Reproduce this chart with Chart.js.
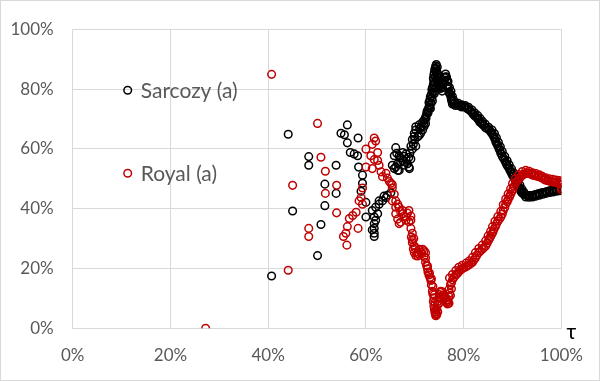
<!DOCTYPE html>
<html>
<head>
<meta charset="utf-8">
<script src="https://cdn.jsdelivr.net/npm/chart.js@4/dist/chart.umd.min.js"></script>
<style>
  html, body { margin: 0; padding: 0; background: #ffffff; }
  #wrap { width: 600px; height: 381px; position: relative; }
</style>
</head>
<body>
<div id="wrap"><canvas id="c" width="600" height="381"></canvas></div>
<script>
// ---- Data (tau %, share %) ----
const seriesNames = ['Sarcozy (a)', 'Royal (a)'];
const xTicks = [0, 20, 40, 60, 80, 100];
const yTicks = [0, 20, 40, 60, 80, 100];

const sarcozy = [
  [40.7,17.5],[44.1,64.9],[45.0,39.2],[48.3,57.4],[48.3,54.5],[50.1,24.3],[50.8,34.7],[51.6,48.2],[51.6,41.0],[53.9,54.5],[53.9,45.1],
  [54.9,65.2],[55.6,64.7],[56.2,68.0],[56.2,62.0],[56.8,58.8],[57.6,58.3],[58.3,57.7],[58.4,63.6],[58.5,53.9],[59.3,51.2],[59.3,48.5],[59.0,45.8],[60.0,42.1],[60.0,37.2],
  [61.3,39.4],[62.0,40.5],[62.7,41.5],[63.4,42.6],[64.1,43.7],[61.7,37.2],[62.0,36.1],[61.3,32.9],[61.7,30.7],[61.7,35.0],[61.7,33.4],[61.7,31.8],[62.4,38.3],[62.7,42.6],[63.7,44.2],[64.4,44.5],[65.1,45.3],
  [65.4,54.5],[65.8,53.4],[65.8,57.7],[66.1,60.4],[66.1,53.9],[66.5,55.0],[66.5,52.8],[66.8,57.7],[66.8,52.8],[67.1,55.5],[67.5,56.1],[67.5,58.8],[68.2,58.3],[68.2,56.6],[68.8,57.2],[68.8,53.9],[68.9,53.4],[69.2,56.6],[69.2,60.9],[69.5,59.9],[69.5,63.1],[69.9,64.2],[69.9,65.2],[70.2,60.9],[70.2,66.3],[70.2,67.4],
  [66.3,58.5],[67.0,57.0],[67.8,57.5],[68.5,55.0],[67.8,54.5],[69.0,58.5],[69.7,61.5],[70.0,63.0],
  [70.9,68.0],[71.2,65.2],[71.6,66.3],[71.6,69.0],[72.2,68.5],[72.2,70.6],[72.5,72.5],[72.9,73.9],[72.9,75.5],[73.2,77.5],[73.6,79.0],[73.6,80.4],[73.9,82.5],[73.9,84.7],[74.1,86.5],[74.3,87.7],
  [70.6,64.0],[71.0,66.8],[71.9,67.5],[72.0,69.8],[72.4,71.5],[72.7,73.2],[73.0,74.7],[73.1,76.5],[73.4,78.3],[73.5,79.8],[73.8,81.5],[73.8,83.5],[74.0,85.5],[74.2,87.0],[74.4,88.2],[74.4,86.8],[74.6,85.2],
  [70.9,64.5],[71.3,67.3],[71.9,68.6],[72.3,70.2],[72.7,72.0],[73.0,73.6],[73.3,75.2],[73.5,77.0],[73.8,78.8],[73.9,80.3],[74.1,82.0],[74.2,84.0],[74.4,85.7],[74.6,87.4],
  [73.2,73.5],[73.6,76.0],[74.0,78.5],[74.3,80.5],[74.5,83.0],
  [74.5,86.0],[74.6,84.0],[74.8,82.0],[75.0,81.4],[75.3,80.2],[75.6,79.3],[75.6,81.5],[75.9,83.0],[76.3,84.1],[76.6,83.0],[76.7,81.0],[77.0,79.0],[77.3,78.2],[77.5,76.5],[77.7,75.0],
  [74.9,83.0],[75.2,81.0],[75.4,80.5],[75.8,82.2],[76.1,83.8],[76.5,84.0],[76.8,80.0],[77.1,78.5],[77.4,77.3],[77.6,75.8],
  [75.0,84.5],[75.3,82.3],[75.7,80.6],[76.0,82.5],[76.3,85.0],[76.8,82.5],[77.1,80.5],[77.4,79.3],[77.7,77.5],[78.0,76.2],
  [78.3,74.5],[79.0,74.5],[79.6,74.0],[80.4,73.9],[81.0,73.2],[81.8,72.0],[82.3,71.0],[82.8,70.3],[83.3,69.0],[83.8,68.3],[84.5,67.0],[85.2,66.4],[85.7,65.3],[86.2,64.0],[86.6,62.3],[87.0,61.0],[87.4,59.5],[87.9,57.5],[88.4,56.2],[88.8,54.8],[89.3,53.5],[89.7,52.2],[90.1,50.8],[90.6,49.5],[91.0,48.0],[91.4,46.8],[91.8,45.6],
  [78.0,75.0],[78.6,74.8],[79.3,74.3],[80.0,74.2],[80.7,73.5],[81.4,72.6],[82.0,71.5],[82.6,70.6],[83.0,69.8],[83.6,68.6],[84.1,67.8],[84.8,66.8],[85.5,65.8],[86.0,64.6],[86.4,63.2],[86.8,61.6],[87.2,60.2],[87.6,58.5],[88.1,56.9],[88.6,55.5],[89.0,54.2],[89.5,52.8],[89.9,51.5],[90.4,50.1],[90.8,48.8],[91.2,47.4],[91.6,46.2],
  [78.2,75.4],[78.9,75.2],[79.6,74.7],[80.3,74.5],[81.0,73.9],[81.7,73.0],[82.3,72.0],[82.9,71.1],[83.4,70.1],[83.9,69.1],[84.4,68.3],[85.1,67.2],[85.8,66.3],[86.3,65.1],[86.7,63.7],[87.1,62.2],[87.5,60.7],[87.9,59.1],[88.4,57.5],[88.9,56.0],[89.3,54.7],[89.8,53.3],[90.2,52.0],[90.7,50.6],[91.1,49.3],[91.5,47.9],[91.9,46.6],[92.3,45.6],
  [92.3,44.8],[92.9,44.5],[93.5,44.4],[94.2,44.5],[94.9,44.8],[95.6,45.1],[96.3,45.4],[97.0,45.7],[97.7,46.0],[98.4,46.2],[99.1,46.4],[99.8,46.6],
  [92.0,45.2],[92.6,44.6],[93.2,44.4],[93.9,44.4],[94.6,44.6],[95.3,45.0],[96.0,45.3],[96.7,45.5],[97.4,45.9],[98.1,46.1],[98.8,46.3],[99.5,46.5],
  [92.7,43.9],[93.4,43.8],[94.1,43.9],[94.8,44.2],[95.5,44.5],[96.2,44.8],[96.9,45.1],[97.6,45.4],[98.3,45.6],[99.0,45.8],[99.7,46.0]
];

const royal = [
  [27.2,0.0],[40.7,84.9],[44.1,19.4],[45.0,47.8],[48.3,33.4],[48.3,30.7],[50.1,68.5],[50.8,57.2],[51.7,52.5],[51.7,45.1],[54.0,47.8],[54.0,38.6],
  [55.4,30.7],[55.9,31.8],[56.1,27.8],[56.2,34.0],[56.6,36.7],[57.3,37.7],[58.0,38.8],[58.4,33.4],[58.6,42.6],[59.0,43.7],[59.3,41.5],[59.3,46.9],[60.0,53.9],[60.0,59.9],[61.0,57.7],[61.3,61.5],[61.7,63.6],[62.0,62.6],[61.7,56.4],[61.3,53.4],[62.4,56.1],[62.4,58.8],[62.7,54.5],
  [63.1,52.3],[63.4,50.7],[64.1,51.8],[64.4,50.2],[64.8,49.1],[65.1,48.5],[65.4,48.0],[65.4,46.9],[65.4,42.6],[65.8,44.8],[66.1,42.6],[66.1,40.5],[66.1,38.3],[66.5,41.5],[66.5,36.5],[66.8,40.5],[66.8,35.0],[67.1,39.0],[67.1,35.5],[67.5,38.3],[67.5,39.4],[67.8,37.5],[68.2,37.2],[68.2,36.1],[68.5,38.5],[68.8,39.4],[68.8,35.6],[69.2,37.5],[69.2,36.1],[69.2,33.4],
  [69.5,31.8],[69.5,29.6],[69.5,28.6],[69.9,27.5],[69.9,25.3],[70.2,24.3],[70.9,24.8],[70.9,26.4],[71.6,26.4],[71.9,25.9],[72.2,25.3],[72.2,22.1],[72.6,19.9],[72.9,17.8],[73.3,16.0],[73.6,12.4],[73.9,10.2],[73.9,7.5],[74.1,5.5],[74.3,4.2],
  [69.3,30.5],[69.7,26.5],[70.5,25.0],[71.2,25.5],[71.9,24.0],[72.4,21.0],[72.7,18.8],[73.1,17.0],[73.4,14.5],[73.7,11.5],[73.8,9.0],[74.0,6.5],[74.2,4.8],[74.4,5.0],
  [69.8,30.0],[70.1,26.8],[70.6,24.2],[71.4,24.9],[72.2,23.6],[72.6,20.8],[73.0,18.5],[73.4,16.6],[73.7,14.0],[74.0,11.2],[74.1,8.6],[74.3,6.2],[74.5,4.5],[74.7,5.5],[74.9,8.2],[75.2,10.4],[75.5,12.3],[76.0,11.2],[76.3,10.3],[76.7,9.0],[77.0,8.4],[77.3,11.0],[77.5,13.2],
  [74.5,6.5],[74.7,9.0],[75.0,11.3],[75.3,12.4],[75.6,11.0],[76.0,10.2],[76.3,9.2],[76.7,8.1],[77.0,10.5],[77.0,13.0],[77.3,14.6],[77.7,16.2],[78.4,17.8],[79.0,18.9],[79.7,19.9],[80.4,20.5],[81.1,21.2],[81.8,22.1],[82.4,23.5],[83.1,25.3],[83.8,26.4],[84.5,27.5],
  [74.6,7.8],[74.9,10.0],[75.2,12.0],[75.8,10.6],[76.1,9.8],[76.5,8.6],[76.8,9.5],[77.1,11.8],[77.5,15.2],[78.0,17.0],[78.7,18.3],[79.3,19.4],[80.0,20.2],[80.8,20.9],[81.5,21.7],[82.1,22.8],[82.7,24.4],[83.4,25.8],[84.1,26.9],
  [77.1,16.8],[77.7,18.0],[78.4,19.3],[79.0,20.4],[79.7,21.1],[80.5,21.8],[81.2,22.6],[81.8,23.7],[82.4,25.3],[83.1,26.7],[83.8,27.8],[84.5,29.3],[85.0,30.9],[85.5,32.4],[85.9,34.0],[86.4,35.8],[87.0,37.4],[87.6,39.1],[88.1,41.3],[88.6,43.2],[89.1,44.9],[89.6,46.6],[90.0,48.4],[90.6,50.1],[91.3,51.4],[92.0,52.4],[92.7,52.8],
  [85.1,29.4],[85.5,30.7],[86.0,32.3],[86.5,34.0],[87.0,35.8],[87.6,37.2],[88.1,39.3],[88.6,41.5],[89.1,43.1],[89.6,44.8],[90.1,46.6],[90.6,48.5],[91.3,49.8],[92.0,51.2],[92.7,51.8],[93.3,51.8],
  [84.8,28.4],[85.3,30.0],[85.8,31.5],[86.2,33.1],[86.7,34.9],[87.3,36.5],[87.9,38.2],[88.4,40.4],[88.9,42.3],[89.4,44.0],[89.9,45.7],[90.3,47.5],[90.9,49.2],[91.6,50.5],[92.3,51.5],[93.0,51.9],
  [94.0,51.3],[94.7,51.0],[95.4,50.7],[96.1,50.2],[96.7,49.6],[97.4,49.3],[98.1,49.0],[98.8,48.8],[99.5,48.5],[100,49.0],[100,48.0],[100,47.0],[100,46.3],
  [93.7,51.6],[94.4,51.1],[95.1,50.8],[95.8,50.4],[96.4,49.9],[97.1,49.4],[97.8,49.1],[98.5,48.9],[99.2,48.7],
  [93.4,52.5],[94.1,52.0],[94.8,51.7],[95.5,51.3],[96.1,50.8],[96.8,50.3],[97.5,50.0],[98.2,49.8],[98.9,49.6],[99.6,49.4]
];

const colors = ['#000000', '#C00000'];
const FONT = "Lato, 'Open Sans', 'DejaVu Sans', sans-serif";
const toPts = arr => arr.map(([x, y]) => ({ x, y }));

const insideLegend = {
  id: 'insideLegend',
  afterDraw(chart) {
    const ctx = chart.ctx, a = chart.chartArea;
    const items = [
      { ds: 0, mx: a.left + 55, my: a.top + 61 },
      { ds: 1, mx: a.left + 55, my: a.top + 144 }
    ];
    ctx.save();
    items.forEach(it => {
      const d = chart.data.datasets[it.ds];
      ctx.beginPath();
      ctx.arc(it.mx, it.my, 3.8, 0, Math.PI * 2);
      ctx.lineWidth = 1.5;
      ctx.strokeStyle = d.borderColor;
      ctx.stroke();
      ctx.fillStyle = '#595959';
      ctx.font = '21px ' + FONT;
      ctx.textAlign = 'left';
      ctx.textBaseline = 'middle';
      ctx.fillText(d.label, it.mx + 13, it.my + 1);
    });
    // axis symbol tau
    ctx.fillStyle = '#000000';
    ctx.font = '21px ' + FONT;
    ctx.textAlign = 'center';
    ctx.textBaseline = 'middle';
    ctx.fillText('τ', a.right + 10, a.bottom + 4);
    // outer frame
    ctx.strokeStyle = '#d9d9d9';
    ctx.lineWidth = 1;
    ctx.strokeRect(0.5, 0.5, chart.width - 1, chart.height - 1);
    ctx.restore();
  }
};

const whiteBg = {
  id: 'whiteBg',
  beforeDraw(chart) {
    const ctx = chart.ctx;
    ctx.save();
    ctx.fillStyle = '#ffffff';
    ctx.fillRect(0, 0, chart.width, chart.height);
    ctx.restore();
  }
};

new Chart(document.getElementById('c'), {
  type: 'scatter',
  data: {
    datasets: [
      { label: seriesNames[0], data: toPts(sarcozy), borderColor: colors[0], backgroundColor: 'rgba(0,0,0,0)',
        pointRadius: 3.8, pointBorderWidth: 1.5, pointHoverRadius: 3.8, order: 1 },
      { label: seriesNames[1], data: toPts(royal), borderColor: colors[1], backgroundColor: 'rgba(0,0,0,0)',
        pointRadius: 3.8, pointBorderWidth: 1.5, pointHoverRadius: 3.8, order: 0 }
    ]
  },
  options: {
    responsive: false,
    animation: false,
    devicePixelRatio: 1,
    layout: { padding: { left: 0, top: 19.3, right: 37.3, bottom: 0 } },
    plugins: { legend: { display: false }, tooltip: { enabled: false } },
    scales: {
      x: {
        type: 'linear', min: 0, max: 100,
        afterBuildTicks(s) { s.ticks = xTicks.map(v => ({ value: v })); },
        afterFit(s) { s.height = 52.7; },
        ticks: { callback: v => v + '%', color: '#595959', font: { family: FONT, size: 17 }, padding: 17, maxRotation: 0 },
        grid: { color: '#d9d9d9', lineWidth: 1, drawTicks: false },
        border: { color: '#d9d9d9', width: 1 }
      },
      y: {
        type: 'linear', min: 0, max: 100,
        afterBuildTicks(s) { s.ticks = yTicks.map(v => ({ value: v })); },
        afterFit(s) { s.width = 72.7; },
        ticks: { callback: v => v + '%', color: '#595959', font: { family: FONT, size: 17 }, padding: 19 },
        grid: { color: '#d9d9d9', lineWidth: 1, drawTicks: false },
        border: { color: '#d9d9d9', width: 1 }
      }
    }
  },
  plugins: [whiteBg, insideLegend]
});
</script>
</body>
</html>
